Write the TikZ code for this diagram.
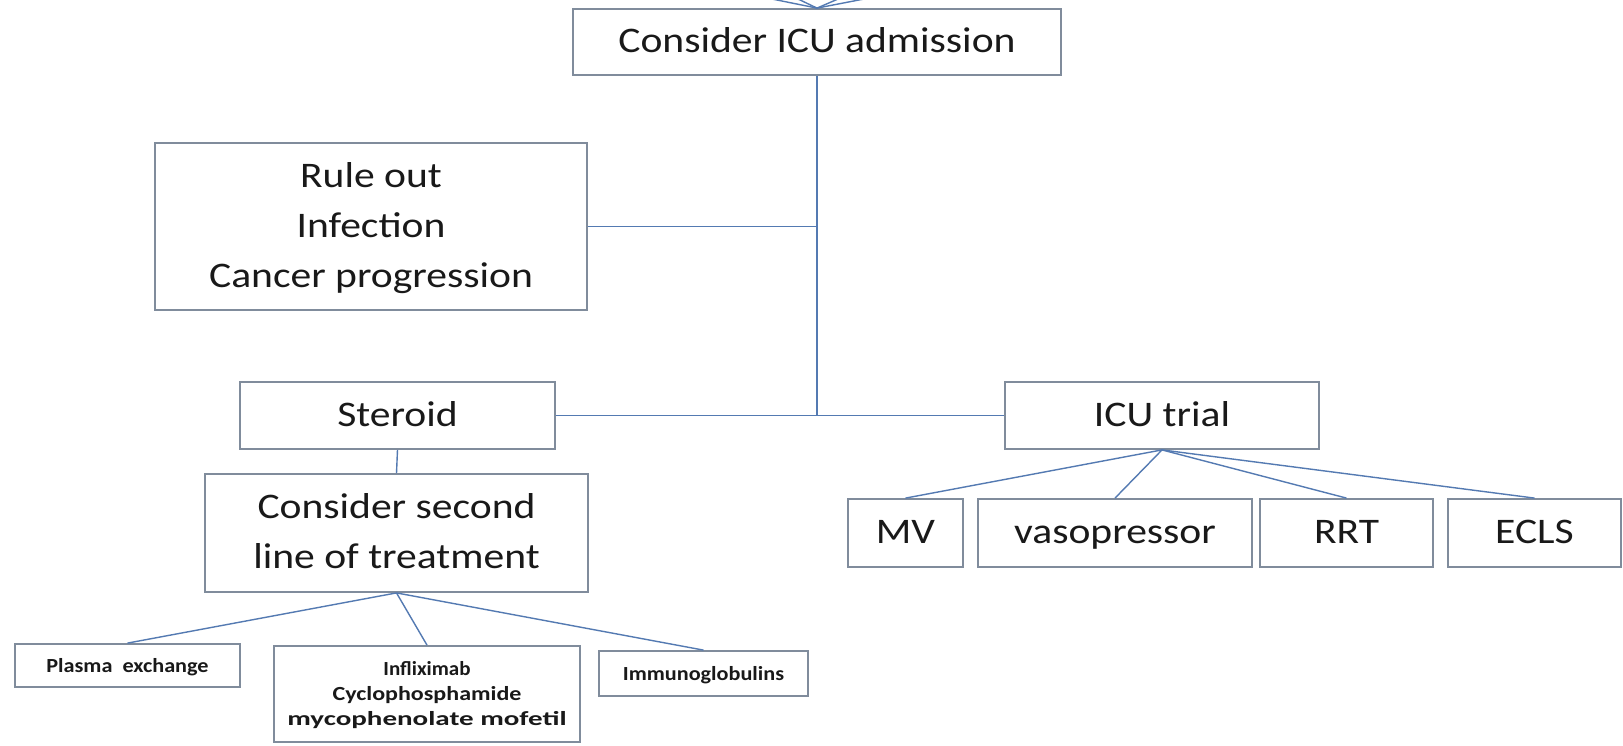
\documentclass[tikz,border=0pt]{standalone}
\usepackage{fontspec}
\usepackage{graphicx}
\setmainfont{Carlito}[FakeStretch=1.155]
\newfontfamily\smallf{Carlito}[FakeStretch=1.11]
\newfontfamily\plainf{Carlito}
\newcommand\bigstr{\rule[-3.5pt]{0pt}{17.5pt}}
\newcommand\smallstr{\rule[-1.5pt]{0pt}{9.5pt}}
\definecolor{boxline}{RGB}{128,140,156}
\definecolor{conn}{RGB}{84,122,178}
\definecolor{txt}{RGB}{25,25,25}
\begin{document}
\begin{tikzpicture}[x=0.5pt,y=-0.5pt,
  box/.style={draw=boxline, line width=0.9pt, rectangle, inner sep=0pt, align=center, text=txt,
    font=\fontsize{18}{25}\selectfont},
  oneline/.style={text height=14pt, text depth=3.5pt},
  smallbox/.style={box, font=\smallf\fontsize{10}{12.5}\selectfont\bfseries},
  smallone/.style={text height=8pt, text depth=1.5pt},
  link/.style={draw=conn, line width=0.7pt}]
\fill[white] (0,0) rectangle (1623,745);
\useasboundingbox (0,0) rectangle (1623,745);

\node[box, oneline, minimum width=244pt, minimum height=33pt] (admit) at (817,42) {Consider ICU admission};
\node[box, minimum width=216pt, minimum height=83.5pt] (rule) at (371,226.5)
  {\bigstr Rule out\\\bigstr Infection\\\bigstr Cancer progression};
\node[box, oneline, minimum width=157.5pt, minimum height=33.5pt] (steroid) at (397.5,415.5) {Steroid};
\node[box, oneline, minimum width=157pt, minimum height=33.5pt] (icu) at (1162,415.5) {ICU trial};
\node[box, minimum width=191.5pt, minimum height=59pt] (second) at (396.5,533)
  {\bigstr Consider second\\\bigstr line of treatment};
\node[smallbox, smallone, minimum width=112.5pt, minimum height=21.5pt] (plasma) at (127.5,665.5) {Plasma\ \ exchange};
\node[smallbox, minimum width=153pt, minimum height=48pt,
  font=\plainf\fontsize{10}{12.5}\selectfont\bfseries] (inflix) at (427,694)
  {\smallstr\scalebox{1.05}[1]{Infliximab}\\\smallstr\scalebox{1.2}[1]{Cyclophosphamide}\\\smallstr\scalebox{1.45}[1]{mycophenolate mofetil}};
\node[smallbox, smallone, minimum width=104.5pt, minimum height=22.5pt] (immuno) at (703.5,673.5) {Immunoglobulins};
\node[box, oneline, minimum width=57.5pt, minimum height=34pt] (mv) at (905.5,533) {MV};
\node[box, oneline, minimum width=137pt, minimum height=34pt] (vaso) at (1115,533) {vasopressor};
\node[box, oneline, minimum width=86.5pt, minimum height=34pt] (rrt) at (1346.5,533) {RRT};
\node[box, oneline, minimum width=86.5pt, minimum height=34pt] (ecls) at (1534.5,533) {ECLS};

% incoming lines at top (cut off)
\coordinate (t1) at (772,-1);
\coordinate (t2) at (798,-1);
\coordinate (t3) at (838,-1);
\coordinate (t4) at (864,-1);
\foreach \t in {t1,t2,t3,t4} \draw[link] (\t) -- (admit.north);

% trunk
\coordinate (jr) at (admit.south |- rule.east);
\coordinate (js) at (admit.south |- steroid.east);
\draw[link] (admit.south) -- (js);
\draw[link] (rule.east) -- (jr);
\draw[link] (steroid.east) -- (icu.west);
\draw[link] (steroid.south) -- (second.north);

% second line fan
\draw[link] (second.south) -- (plasma.north);
\draw[link] (second.south) -- (inflix.north);
\draw[link] (second.south) -- (immuno.north);

% ICU trial fan
\draw[link] (icu.south) -- (mv.north);
\draw[link] (icu.south) -- (vaso.north);
\draw[link] (icu.south) -- (rrt.north);
\draw[link] (icu.south) -- (ecls.north);
\end{tikzpicture}
\end{document}
